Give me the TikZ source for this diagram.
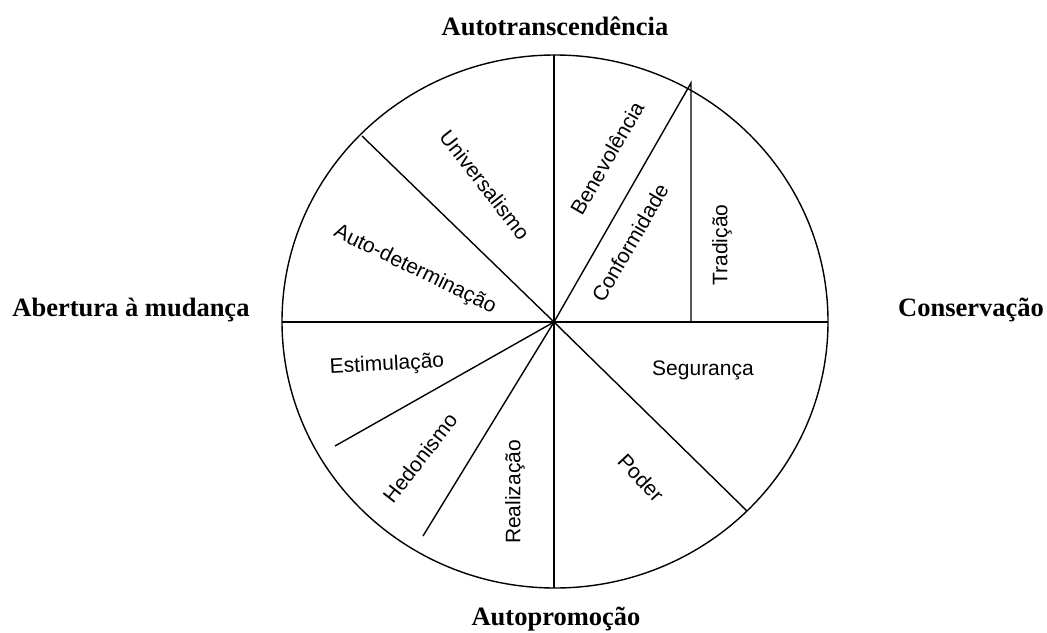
\documentclass[tikz,border=0pt]{standalone}
\usepackage{fontspec}
\setmainfont{Liberation Serif}
\newfontfamily\arialfont{Liberation Sans}
\tikzset{
  px/.style={x=1pt,y=-1pt},
  divider/.style={line width=1.4pt},
  heading/.style={font=\fontsize{26.5}{30}\selectfont\bfseries, inner sep=0pt},
  sector/.style={font=\arialfont\fontsize{21}{24}\selectfont, inner sep=0pt}
}
\begin{document}
\begin{tikzpicture}[px]
\useasboundingbox (0,0) rectangle (1047,632);
\fill[white] (0,0) rectangle (1047,632);
% circle
\draw[divider] (555,321.5) ellipse [x radius=273, y radius=266.5];
\coordinate (c) at (554,322);
\coordinate (top) at (554,55);
\coordinate (bot) at (554,588);
\coordinate (lft) at (282,322);
\coordinate (rgt) at (828,322);
\coordinate (ul) at (362,136);
\coordinate (apex) at (691,83);
\coordinate (tradbase) at (691,322);
\coordinate (lr) at (747,511);
\coordinate (estend) at (335,446);
\coordinate (hedend) at (423,536);
\draw[divider] (top) -- (bot);
\draw[divider] (lft) -- (rgt);
\draw[divider] (c) -- (ul);
\draw[divider] (c) -- (apex) -- (tradbase);
\draw[divider] (c) -- (lr);
\draw[divider] (c) -- (estend);
\draw[divider] (c) -- (hedend);
% headings
\node[heading] (h1) at (555,26) {Autotranscendência};
\node[heading] (h2) at (131,310) {Abertura à mudança};
\node[heading] (h3) at (971,310) {Conservação};
\node[heading] (h4) at (556,619) {Autopromoção};
% sectors
\node[sector, rotate=-52] (s1) at (485,185) {Universalismo};
\node[sector, rotate=60] (s2) at (607,158) {Benevolência};
\node[sector, rotate=60] (s3) at (630,243) {Conformidade};
\node[sector, rotate=90] (s4) at (722,245) {Tradição};
\node[sector, rotate=-26] (s5) at (415,270) {Auto-determinação};
\node[sector, rotate=3] (s6) at (387,365) {Estimulação};
\node[sector, rotate=52] (s7) at (420,458) {Hedonismo};
\node[sector, rotate=90] (s8) at (515,492) {Realização};
\node[sector] (s9) at (703,370) {Segurança};
\node[sector, rotate=-47] (s10) at (641,478) {Poder};
\end{tikzpicture}
\end{document}
